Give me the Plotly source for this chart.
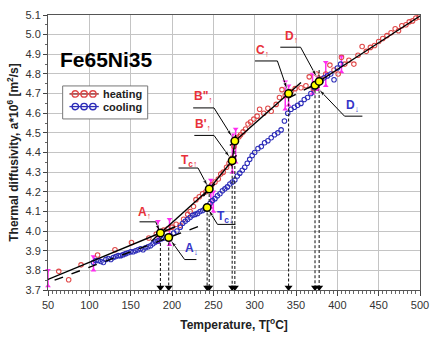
import plotly.graph_objects as go

# ---------------- data ----------------
heat_T = [63, 75, 90, 110, 131, 151, 172, 181, 190, 195, 200, 205, 210, 214, 219, 222, 226, 229, 233, 237,
          241, 244, 248, 252, 256, 259, 262, 266, 269, 272, 275, 278, 281, 283, 286, 289, 292, 295, 299, 303,
          306, 311, 316, 320, 326, 330, 333, 337, 344, 349, 356, 362, 366, 371, 375, 381, 386, 391, 396, 401,
          405, 409, 414, 420, 425, 430, 435, 440, 445, 450, 455, 460, 465, 470, 474, 478, 483, 487, 491, 495, 499]
heat_a = [3.795, 3.752, 3.828, 3.878, 3.905, 3.942, 3.965, 3.985, 4.005, 4.012, 4.02, 4.035, 4.03, 4.06, 4.085,
          4.10, 4.125, 4.16, 4.175, 4.19, 4.20, 4.215, 4.235, 4.25, 4.265, 4.29, 4.30, 4.325, 4.345, 4.37,
          4.43, 4.47, 4.48, 4.49, 4.505, 4.52, 4.545, 4.555, 4.57, 4.585, 4.62, 4.60, 4.625, 4.61, 4.645,
          4.68, 4.72, 4.69, 4.71, 4.725, 4.73, 4.74, 4.785, 4.725, 4.80, 4.775, 4.80, 4.845, 4.82, 4.80,
          4.885, 4.85, 4.87, 4.85, 4.895, 4.94, 4.915, 4.935, 4.945, 4.965, 4.98, 4.995, 5.01, 5.03, 5.02,
          5.045, 5.05, 5.065, 5.07, 5.085, 5.09]

cool_T = [105, 108, 111, 114, 117, 120, 123, 126, 129, 132, 135, 138, 141, 144, 147, 150, 153, 156, 159, 162,
          165, 168, 171, 174, 177, 180, 183, 187, 190, 194, 198, 202, 206, 210, 213, 216, 219, 222, 225, 228,
          231, 234, 237, 240, 243, 246, 249, 252, 255, 258, 261, 264, 267, 270, 273, 276, 279, 282, 285, 288,
          291, 294, 297, 300, 304, 308, 312, 316, 320, 324, 328, 332, 336, 340, 344, 348, 352, 356, 360, 364,
          368, 372, 376, 380, 384, 388, 392, 396, 400, 404]
cool_a = [3.84, 3.85, 3.85, 3.845, 3.84, 3.855, 3.86, 3.855, 3.865, 3.87, 3.875, 3.875, 3.88, 3.885, 3.89,
          3.895, 3.895, 3.90, 3.905, 3.91, 3.905, 3.915, 3.92, 3.925, 3.935, 3.945, 3.95, 3.96, 3.965, 3.97,
          3.975, 3.99, 4.00, 4.02, 4.04, 4.05, 4.06, 4.07, 4.08, 4.085, 4.09, 4.10, 4.105, 4.115, 4.125,
          4.14, 4.155, 4.165, 4.18, 4.19, 4.205, 4.215, 4.225, 4.24, 4.25, 4.26, 4.28, 4.295, 4.31, 4.325,
          4.345, 4.365, 4.385, 4.40, 4.42, 4.43, 4.45, 4.46, 4.475, 4.49, 4.50, 4.515, 4.56, 4.60, 4.62,
          4.63, 4.64, 4.65, 4.67, 4.68, 4.70, 4.73, 4.75, 4.76, 4.78, 4.79, 4.80, 4.77, 4.83, 4.85]

# heating fit segments (solid) and cooling fit segments (dashed)
heat_fit_T = [[50, 204], [175, 252], [238, 278], [272, 277], [270, 356], [365, 500]]
heat_fit_a = [[3.754, 4.022], [3.948, 4.240], [4.178, 4.386], [4.33, 4.49], [4.436, 4.756], [4.727, 5.095]]
cool_fit_T = [[58, 240], [340, 372]]
cool_fit_a = [[3.750, 4.036], [4.675, 4.745]]

# characteristic points
pt_T = [186, 196, 242.5, 245, 272.8, 276, 341, 373, 378]
pt_a = [3.99, 3.967, 4.12, 4.214, 4.358, 4.458, 4.70, 4.742, 4.762]
drop_top = [3.99, 3.967, 4.12, 4.214, 4.358, 4.458, 4.70, 4.742, 4.82]

# magenta markers
mag_T = [50, 105, 183, 197, 247, 250, 273, 277, 337, 341, 370, 377, 386, 405]
mag_lo = [3.72, 3.80, 3.94, 3.93, 4.12, 4.10, 4.30, 4.35, 4.62, 4.64, 4.70, 4.72, 4.74, 4.81]
mag_hi = [3.80, 3.87, 4.05, 4.06, 4.26, 4.20, 4.49, 4.52, 4.76, 4.74, 4.80, 4.78, 4.86, 4.89]

# labels: text, colour, text pos, leader horizontal (T0, T1, a), leader target point
labels = [
    ("A<sub>↑</sub>", "#e8303a", 166.6, 4.092, 160.7, 180.3, 4.047, 186, 3.99),
    ("T<sub>c↑</sub>", "#e8303a", 221.0, 4.355, 207.9, 231.5, 4.321, 245, 4.214),
    ("B'<sub>↑</sub>", "#e8303a", 237.8, 4.54, 227.0, 250.8, 4.487, 272.8, 4.358),
    ("B\"<sub>↑</sub>", "#e8303a", 237.8, 4.682, 225.6, 250.8, 4.627, 276, 4.458),
    ("C<sub>↑</sub>", "#e8303a", 309.8, 4.917, 300.4, 327.5, 4.866, 341, 4.70),
    ("D<sub>↑</sub>", "#e8303a", 344.0, 4.988, 331.0, 355.5, 4.936, 378, 4.762),
    ("A<sub>↓</sub>", "#3535c8", 223.6, 3.91, 215.3, 229.5, 3.855, 196, 3.967),
    ("T<sub>c↓</sub>", "#3535c8", 264.0, 4.072, 255.0, 276.8, 4.034, 242.5, 4.12),
    ("D<sub>↓</sub>", "#3535c8", 418.5, 4.637, 408.7, 430.3, 4.585, 373, 4.742),
]

legend_names = ["heating", "cooling"]

x_ticks = [50, 100, 150, 200, 250, 300, 350, 400, 450, 500]
y_ticks = [3.7, 3.8, 3.9, 4.0, 4.1, 4.2, 4.3, 4.4, 4.5, 4.6, 4.7, 4.8, 4.9, 5.0, 5.1]

RED = "#e04848"
BLUE = "#2c2cb8"
FONT = "Liberation Sans, Arial, sans-serif"

fig = go.Figure()

# magenta marks
mx, my = [], []
for t, lo, hi in zip(mag_T, mag_lo, mag_hi):
    mx += [t, t, None]
    my += [lo, hi, None]
fig.add_trace(go.Scatter(x=mx, y=my, mode="lines", line=dict(color="#ff2cf0", width=1.5),
                         showlegend=False, hoverinfo="skip", cliponaxis=False))
fig.add_trace(go.Scatter(x=mag_T, y=mag_hi, mode="markers",
                         marker=dict(symbol="triangle-down", size=5, color="#ff2cf0"),
                         showlegend=False, cliponaxis=False))
fig.add_trace(go.Scatter(x=mag_T, y=mag_lo, mode="markers",
                         marker=dict(symbol="triangle-up", size=5, color="#ff2cf0"),
                         showlegend=False, cliponaxis=False))

# data
fig.add_trace(go.Scatter(x=heat_T, y=heat_a, mode="markers", name=legend_names[0],
                         marker=dict(symbol="circle-open", size=4.5, color=RED, line=dict(width=1.1)),
                         showlegend=False))
fig.add_trace(go.Scatter(x=cool_T, y=cool_a, mode="markers", name=legend_names[1],
                         marker=dict(symbol="circle-open", size=4.5, color=BLUE, line=dict(width=1.1)),
                         showlegend=False))

# fit lines
for xs, ys in zip(heat_fit_T, heat_fit_a):
    fig.add_trace(go.Scatter(x=xs, y=ys, mode="lines", line=dict(color="black", width=1.4),
                             showlegend=False, hoverinfo="skip"))
for xs, ys in zip(cool_fit_T, cool_fit_a):
    fig.add_trace(go.Scatter(x=xs, y=ys, mode="lines", line=dict(color="black", width=1.4, dash="dash"),
                             showlegend=False, hoverinfo="skip"))

# vertical dashed drop lines
dx, dy = [], []
for t, top in zip(pt_T, drop_top):
    dx += [t, t, None]
    dy += [top, 3.72, None]
fig.add_trace(go.Scatter(x=dx, y=dy, mode="lines", line=dict(color="#222", width=1.1, dash="3px,2px"),
                         showlegend=False, hoverinfo="skip"))
fig.add_trace(go.Scatter(x=pt_T, y=[3.713] * len(pt_T), mode="markers",
                         marker=dict(symbol="triangle-down", size=7, color="black"),
                         showlegend=False, cliponaxis=False))

# labels with leaders (horizontal + diagonal ending in an arrowhead)
for txt, col, tx, ty, h0, h1, ha, px_, py_ in labels:
    start = h1 if h1 < px_ else h0
    other = h0 if start == h1 else h1
    f = 0.86
    ex = start + (px_ - start) * f
    ey = ha + (py_ - ha) * f
    fig.add_trace(go.Scatter(x=[other, start, ex], y=[ha, ha, ey], mode="lines+markers",
                             line=dict(color="black", width=1),
                             marker=dict(symbol=["circle", "circle", "arrow"], size=[0, 0, 7],
                                         color="black", angleref="previous"),
                             showlegend=False, hoverinfo="skip"))
    fig.add_annotation(x=tx, y=ty, text="<b>" + txt + "</b>", showarrow=False,
                       font=dict(family=FONT, size=12, color=col))

# characteristic points
fig.add_trace(go.Scatter(x=pt_T, y=pt_a, mode="markers",
                         marker=dict(symbol="circle", size=7.5, color="#ffff00",
                                     line=dict(color="black", width=1.5)),
                         showlegend=False))

# ---- manual legend (paper coordinates) ----
shapes = [dict(type="rect", xref="paper", yref="paper", x0=0.0394, x1=0.268, y0=0.622, y1=0.742,
               line=dict(color="#777", width=1), fillcolor="white", layer="above")]
rows = [(0.713, RED, "#7a1a1a"), (0.667, BLUE, BLUE)]
for (yy, mcol, lcol), name in zip(rows, legend_names):
    shapes.append(dict(type="line", xref="paper", yref="paper", x0=0.0577, x1=0.1365, y0=yy, y1=yy,
                       line=dict(color=lcol, width=1.3), layer="above"))
    for cx in (0.0735, 0.097, 0.1207):
        shapes.append(dict(type="circle", xref="paper", yref="paper", xsizemode="pixel",
                           ysizemode="pixel", xanchor=cx, yanchor=yy, x0=-3.2, x1=3.2, y0=-3.2, y1=3.2,
                           line=dict(color=mcol, width=1.4), layer="above"))
    fig.add_annotation(x=0.1417, y=yy, xref="paper", yref="paper", xanchor="left", yanchor="middle",
                       text="<b>" + name + "</b>", showarrow=False,
                       font=dict(family=FONT, size=11, color="#222"))

fig.add_annotation(x=0.158, y=0.838, xref="paper", yref="paper", xanchor="center", yanchor="middle",
                   text="<b>Fe65Ni35</b>", showarrow=False,
                   font=dict(family=FONT, size=21, color="black"))

fig.update_layout(
    width=438, height=340,
    margin=dict(l=48, r=9, t=11, b=50),
    paper_bgcolor="white", plot_bgcolor="white",
    font=dict(family=FONT, size=11, color="#333"),
    showlegend=False,
    shapes=shapes,
    xaxis=dict(range=[50, 500], tickvals=x_ticks, showgrid=True, gridcolor="#c4c4c4", gridwidth=1,
               showline=True, linecolor="#555", linewidth=1, mirror=True, ticks="outside", ticklen=5,
               tickcolor="#444", zeroline=False,
               minor=dict(dtick=5, ticks="outside", ticklen=3, tickcolor="#666", showgrid=False),
               title=dict(text="<b>Temperature, T[<sup>o</sup>C]</b>", standoff=10,
                          font=dict(family=FONT, size=12, color="#222"))),
    yaxis=dict(range=[3.7, 5.1], tickvals=y_ticks, tickformat=".1f", showgrid=True, gridcolor="#c4c4c4",
               gridwidth=1, showline=True, linecolor="#555", linewidth=1, mirror=True, ticks="outside",
               ticklen=4, tickcolor="#444", zeroline=False,
               minor=dict(dtick=0.05, ticks="outside", ticklen=2, tickcolor="#666", showgrid=False),
               title=dict(text="<b>Thermal diffusivity, a*10<sup>6</sup> [m<sup>2</sup>/s]</b>", standoff=4,
                          font=dict(family=FONT, size=12, color="#222"))),
)

fig.write_html("out.html")
